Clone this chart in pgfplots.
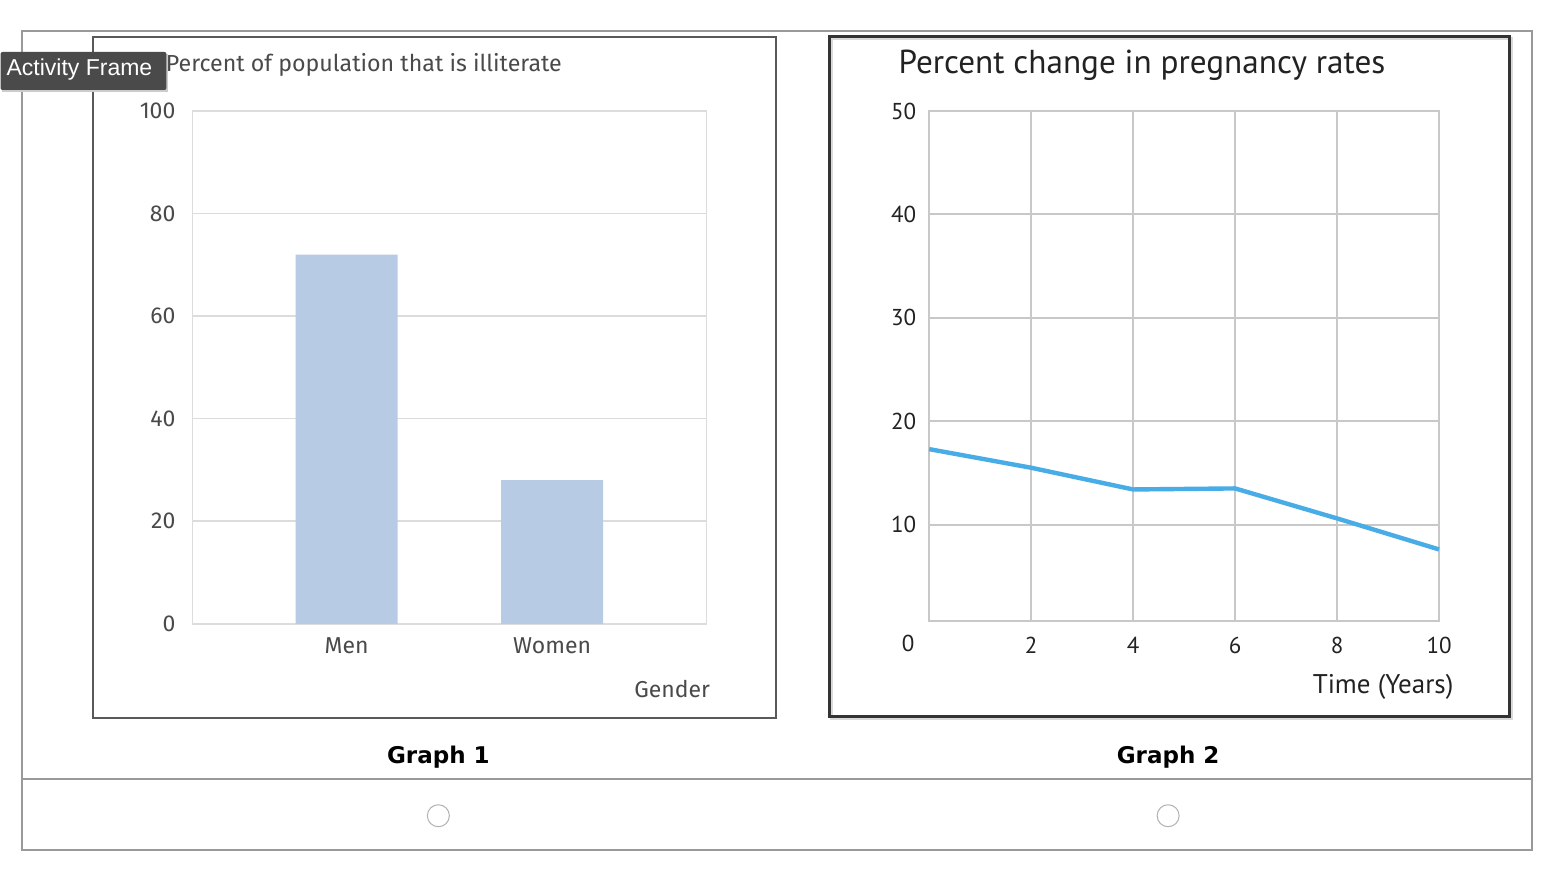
\documentclass[border=0pt]{standalone}
\usepackage{pgfplots}
\pgfplotsset{compat=1.18}
\usepackage{fontspec}
\setmainfont{Liberation Sans}
\newfontfamily\gfont{Fira Sans}
\newfontfamily\mfont{PT Sans}
\newfontfamily\bfont{DejaVu Sans}
\definecolor{barblue}{HTML}{B8CBE4}
\definecolor{lineblue}{HTML}{48ACE6}
\definecolor{gridg}{HTML}{DCDCDC}
\definecolor{grid2}{HTML}{C8C8C8}
\definecolor{txt1}{HTML}{4A4A4A}
\definecolor{txt2}{HTML}{222222}
\definecolor{tip}{HTML}{4A4A4A}
\begin{document}
\begin{tikzpicture}
\begin{scope}[x=0.5pt,y=-0.5pt]
\useasboundingbox (0,0) rectangle (1556,872);
\fill[white] (0,0) rectangle (1556,872);
\draw[black!40, line width=1pt] (22,31) rectangle (1532,850);
\draw[black!40, line width=1pt] (22,779) -- (1532,779);
\draw[black!65, line width=1pt] (93,37) rectangle (776,718);
\draw[black!15, line width=1.5pt] (831,39) rectangle (1511,719);
\draw[black!80, line width=1.5pt] (829,37) rectangle (1509,717);
\end{scope}

\begin{axis}[at={(96pt,-312pt)}, anchor=south west, scale only axis,
  width=257pt, height=256.5pt,
  xmin=0.25, xmax=2.75, ymin=0, ymax=100,
  ytick={0,20,...,100}, xtick={1,2}, xticklabels={Men,Women},
  ybar, bar width=51pt,
  ymajorgrids, grid style={gridg, line width=0.75pt},
  axis line style={gridg, line width=0.75pt},
  major tick length=0,
  tick label style={font=\gfont\fontsize{11.5}{13}\selectfont, text=txt1},
  /pgf/number format/assume math mode=true,
  yticklabel style={xshift=-5pt}, xticklabel style={yshift=-3.5pt}]
\addplot[fill=barblue, draw=none, bar shift=0pt] coordinates {(1,72) (2,28)};
\end{axis}

\begin{axis}[at={(464.5pt,-310.5pt)}, anchor=south west, scale only axis,
  width=255pt, height=255pt,
  xmin=0, xmax=10, ymin=0.7, ymax=50,
  xtick={2,4,...,10}, ytick={10,20,...,50},
  grid=major, grid style={grid2, line width=1pt},
  axis line style={grid2, line width=1pt},
  major tick length=0,
  tick label style={font=\mfont\fontsize{11.5}{13}\selectfont, text=txt2},
  /pgf/number format/assume math mode=true,
  yticklabel style={xshift=-3pt}, xticklabel style={yshift=-4.5pt},
  clip=false]
\addplot[lineblue, line width=2.2pt, line join=round] coordinates {(0,17.3) (2,15.5) (4,13.4) (6,13.5) (8,10.6) (10,7.6)};
\end{axis}

\begin{scope}[x=0.5pt,y=-0.5pt]
\node[anchor=base west, inner sep=0pt, font=\gfont\fontsize{11.6}{13}\selectfont, text=txt1] at (165,72) {Percent of population that is illiterate};
\node[anchor=base west, inner sep=0pt, font=\mfont\fontsize{16.6}{18}\selectfont, text=txt2] at (898,74) {Percent change in pregnancy rates};
\node[font=\gfont\fontsize{11.5}{13}\selectfont, text=txt1] at (672,689) {Gender};
\node[font=\mfont\fontsize{13.5}{15}\selectfont, text=txt2] at (1383,687) {Time (Years)};
\node[font=\mfont\fontsize{11.5}{13}\selectfont, text=txt2] at (908,644) {0};
\node[font=\bfont\bfseries\fontsize{11.5}{13}\selectfont] at (438,757) {Graph 1};
\node[font=\bfont\bfseries\fontsize{11.5}{13}\selectfont] at (1168,757) {Graph 2};

\fill[black!20] (1,54) rectangle (168,92);
\fill[tip, rounded corners=1pt] (0,52) rectangle (166,90);
\node[text=white, font=\fontsize{11.5}{13}\selectfont] at (79,70) {Activity Frame};

\draw[black!30, fill=white, line width=0.5pt] (438,816) circle[radius=11];
\draw[black!30, fill=white, line width=0.5pt] (1168,816) circle[radius=11];
\end{scope}
\end{tikzpicture}
\end{document}
